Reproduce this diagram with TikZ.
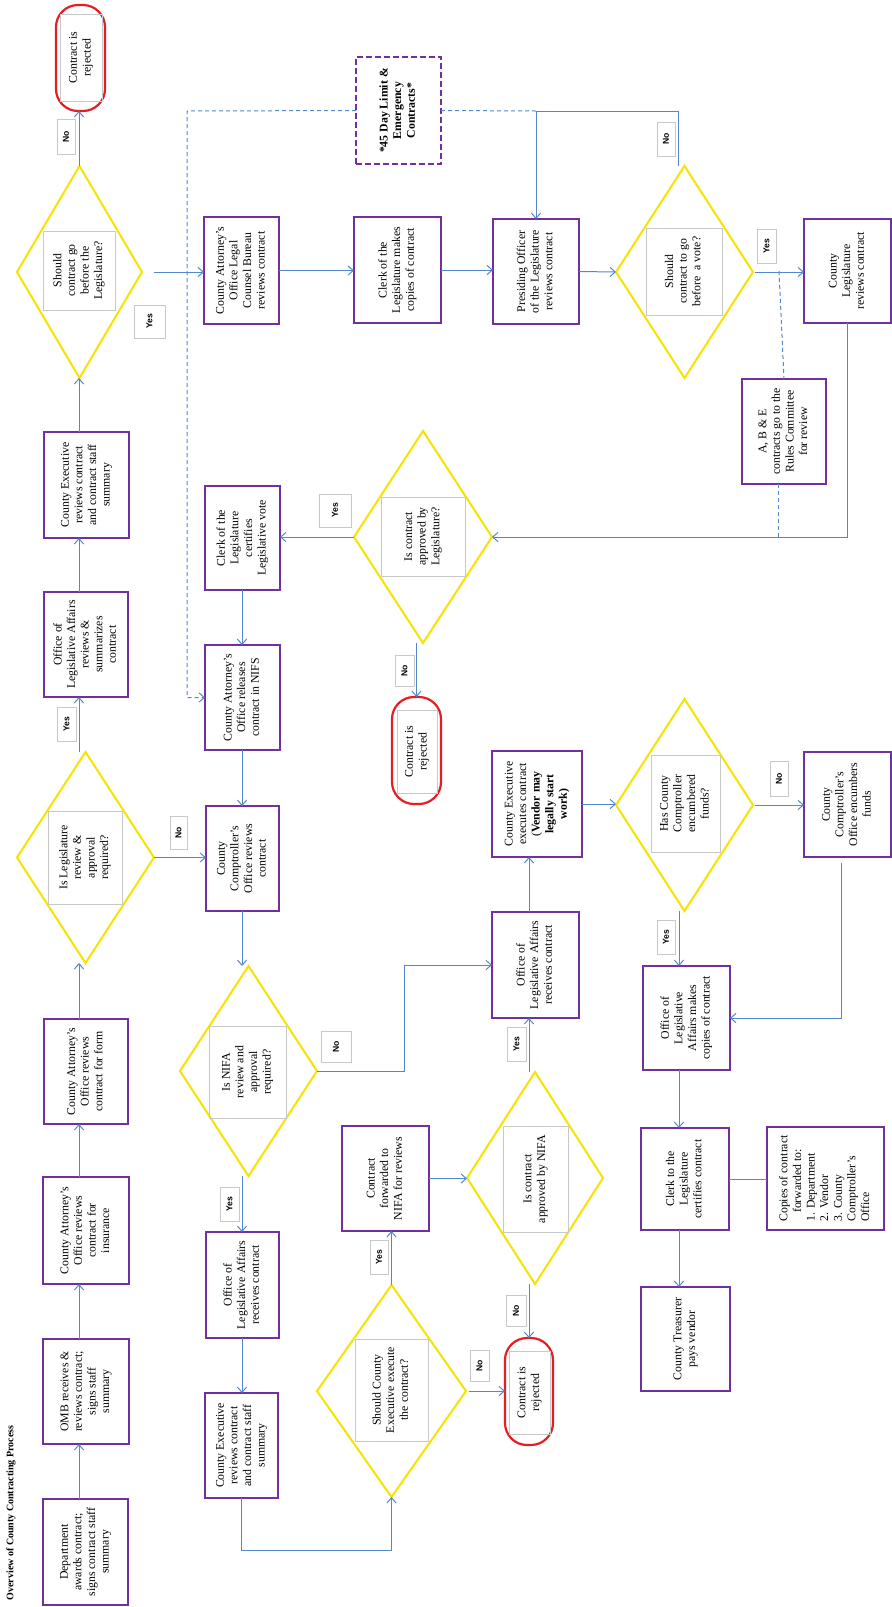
\documentclass[tikz,border=0pt]{standalone}
\usepackage{fontspec}
\setmainfont{Liberation Serif}
\newfontfamily\lblsans{Liberation Sans}
\usetikzlibrary{shapes.geometric,arrows.meta}
\definecolor{bpurple}{RGB}{112,48,160}
\definecolor{dyellow}{RGB}{245,228,0}
\definecolor{rred}{RGB}{228,30,36}
\definecolor{cblue}{RGB}{84,136,206}
\definecolor{lgray}{RGB}{200,200,200}
\newcommand\rtxt[1]{\rotatebox{90}{\begin{tabular}{@{}c@{}}#1\end{tabular}}}
\newcommand\ltxt[1]{\rotatebox{90}{\begin{tabular}{@{}l@{}}#1\end{tabular}}}
\begin{document}
\begin{tikzpicture}[x=0.5pt,y=-0.5pt,
 every node/.style={inner sep=0pt, outer sep=0pt},
 sz/.style 2 args={minimum width=#1*0.5pt, minimum height=#2*0.5pt},
 pbox/.style={draw=bpurple, line width=1.1pt, fill=white, rectangle, font=\fontsize{5.9}{6.8}\selectfont},
 dbox/.style={draw=bpurple, line width=1.1pt, dash pattern=on 3pt off 1.5pt, fill=white, rectangle, font=\fontsize{5.9}{6.8}\selectfont\bfseries},
 dia/.style={draw=dyellow, line width=1pt, diamond},
 ibox/.style={draw=lgray, line width=0.5pt, rectangle, font=\fontsize{5.9}{6.8}\selectfont},
 rej/.style={draw=rred, line width=1.1pt, rectangle, rounded corners=11pt, fill=white},
 lbl/.style={draw=lgray, line width=0.5pt, fill=white, rectangle, font=\lblsans\bfseries\fontsize{4.3}{5}\selectfont},
 arr/.style={draw=cblue, line width=0.5pt, -{Straight Barb[length=2.6pt,width=4.6pt]}},
 ln/.style={draw=cblue, line width=0.5pt},
 dsh/.style={draw=cblue, line width=0.5pt, dash pattern=on 2pt off 1.5pt},
]
\fill[white] (0,0) rectangle (892,1607);
\useasboundingbox (0,0) rectangle (892,1607);

% title
\node[font=\bfseries\fontsize{5}{6}\selectfont] (title) at (11,1513) {\rotatebox{90}{Overview of County Contracting Process}};

% column 1
\node[pbox, sz={85}{106}] (dept) at (85.5,1552) {\rtxt{Department\\awards contract;\\signs contract staff\\summary}};
\node[pbox, sz={86}{105}] (omb) at (86,1391.5) {\rtxt{OMB receives \&\\reviews contract;\\signs staff\\summary}};
\node[pbox, sz={86}{107}] (ains) at (86,1230.5) {\rtxt{County Attorney's\\Office reviews\\contract for\\insurance}};
\node[pbox, sz={84}{105}] (aform) at (86,1071.5) {\rtxt{County Attorney's\\Office reviews\\contract for form}};
\node[dia, sz={137}{211}] (dleg) at (85.5,857.5) {};
\node[ibox, sz={74}{93}] (dlegin) at (85,857.5) {\rtxt{Is Legislature\\review \&\\approval\\required?}};
\node[pbox, sz={84}{105}] (c1o) at (86,644.5) {\rtxt{Office of\\Legislative Affairs\\reviews \&\\summarizes\\contract}};
\node[pbox, sz={85}{106}] (c1e) at (86.5,485) {\rtxt{County Executive\\reviews contract\\and contract staff\\summary}};
\node[dia, sz={125}{212}] (d1) at (79.5,272) {};
\node[ibox, sz={72}{79}] (d1in) at (79,270.5) {\rtxt{Should\\contract go\\before the\\Legislature?}};
\node[rej, sz={49}{106}] (r1) at (80.5,58) {};
\node[ibox, sz={42}{87}] (r1in) at (81,57.5) {\rtxt{Contract is\\rejected}};

% column 2
\node[pbox, sz={75}{107}] (lc) at (241.5,270.5) {\rtxt{County Attorney's\\Office Legal\\Counsel Bureau\\reviews contract}};
\node[pbox, sz={75}{104}] (cv) at (242.5,538) {\rtxt{Clerk of the\\Legislature\\certifies\\Legislative vote}};
\node[pbox, sz={75}{105}] (rn) at (242.5,697.5) {\rtxt{County Attorney's\\Office releases\\contract in NIFS}};
\node[pbox, sz={73}{105}] (cr) at (242.5,858.5) {\rtxt{County\\Comptroller's\\Office reviews\\contract}};
\node[dia, sz={137}{210}] (dn) at (248.5,1071) {};
\node[ibox, sz={77}{92}] (dnin) at (247.5,1072) {\rtxt{Is NIFA\\review and\\approval\\required?}};
\node[pbox, sz={73}{106}] (or2) at (242.5,1285) {\rtxt{Office of\\Legislative Affairs\\receives contract}};
\node[pbox, sz={73}{105}] (cx2) at (241.5,1445.5) {\rtxt{County Executive\\reviews contract\\and contract staff\\summary}};

% column 3
\node[pbox, sz={87}{106}] (cm) at (397.5,270) {\rtxt{Clerk of the\\Legislature makes\\copies of contract}};
\node[dbox, sz={85}{107}] (ff) at (398.5,110.5) {\rtxt{*45 Day Limit \&\\Emergency\\Contracts*}};
\node[dia, sz={138}{212}] (dapp) at (423,537) {};
\node[ibox, sz={84}{79}] (dappin) at (423,536.5) {\rtxt{Is contract\\approved by\\Legislature?}};
\node[rej, sz={49}{107}] (r2) at (416.5,750.5) {};
\node[ibox, sz={40}{83}] (r2in) at (417,751.5) {\rtxt{Contract is\\rejected}};
\node[pbox, sz={87}{105}] (cf) at (385.5,1178.5) {\rtxt{Contract\\forwarded to\\NIFA for reviews}};
\node[dia, sz={149}{212}] (dexec) at (391.5,1391) {};
\node[ibox, sz={73}{102}] (dexecin) at (391.5,1390) {\rtxt{Should County\\Executive execute\\the contract?}};

% column 4
\node[pbox, sz={86}{105}] (po) at (536,271.5) {\rtxt{Presiding Officer\\of the Legislature\\reviews contract}};
\node[pbox, sz={90}{106}] (ex) at (537,804) {\rtxt{County Executive\\executes contract\\(\textbf{Vendor may}\\\textbf{legally start}\\\textbf{work)}}};
\node[pbox, sz={87}{106}] (or) at (535.5,965) {\rtxt{Office of\\Legislative Affairs\\receives contract}};
\node[dia, sz={136}{212}] (dna) at (535,1178) {};
\node[ibox, sz={65}{106}] (dnain) at (535.5,1179) {\rtxt{Is contract\\approved by NIFA}};
\node[rej, sz={48}{107}] (r3) at (529,1391.5) {};
\node[ibox, sz={41}{83}] (r3in) at (529.5,1392.5) {\rtxt{Contract is\\rejected}};

% column 5
\node[dia, sz={137}{212}] (dvote) at (684.5,272) {};
\node[ibox, sz={76}{87}] (dvotein) at (684,271.5) {\rtxt{Should\\contract to go\\before\ \ a vote?}};
\node[pbox, sz={84}{105}] (abe) at (784,431.5) {\rtxt{A, B \& E\\contracts go to the\\Rules Committee\\for review}};
\node[dia, sz={137}{212}] (dfund) at (684.5,805) {};
\node[ibox, sz={69}{97}] (dfundin) at (685.5,803.5) {\rtxt{Has County\\Comptroller\\encumbered\\funds?}};
\node[pbox, sz={87}{104}] (oc) at (686.5,1018) {\rtxt{Office of\\Legislative\\Affairs makes\\copies of contract}};
\node[pbox, sz={88}{102}] (ct) at (685,1179) {\rtxt{Clerk to the\\Legislature\\certifies contract}};
\node[pbox, sz={89}{104}] (tr) at (685.5,1339) {\rtxt{County Treasurer\\pays vendor}};

% column 6
\node[pbox, sz={87}{104}] (cl) at (847.5,271) {\rtxt{County\\Legislature\\reviews contract}};
\node[pbox, sz={87}{105}] (ce) at (847.5,804.5) {\rtxt{County\\Comptroller's\\Office encumbers\\funds}};
\node[pbox, sz={117}{103}] (cp) at (825.5,1178.5) {\ltxt{Copies of contract\\\ \ \ forwarded to:\\1. Department\\2. Vendor\\3. County\\Comptroller's\\Office}};

% labels
\node[lbl, sz={18}{35}] (no1) at (66,136.5) {\rotatebox{90}{No}};
\node[lbl, sz={31}{33}] (yes1) at (149.5,321.5) {\rotatebox{90}{Yes}};
\node[lbl, sz={19}{34}] (yesleg) at (66.5,724) {\rotatebox{90}{Yes}};
\node[lbl, sz={17}{33}] (noleg) at (178.5,832.5) {\rotatebox{90}{No}};
\node[lbl, sz={18}{34}] (novote) at (666,139) {\rotatebox{90}{No}};
\node[lbl, sz={19}{34}] (yesvote) at (766.5,246) {\rotatebox{90}{Yes}};
\node[lbl, sz={32}{33}] (yesapp) at (335,510.5) {\rotatebox{90}{Yes}};
\node[lbl, sz={19}{31}] (noapp) at (404.5,670.5) {\rotatebox{90}{No}};
\node[lbl, sz={18}{35}] (nofund) at (779,778.5) {\rotatebox{90}{No}};
\node[lbl, sz={18}{34}] (yesfund) at (666,937) {\rotatebox{90}{Yes}};
\node[lbl, sz={30}{31}] (nonifa) at (336,1046.5) {\rotatebox{90}{No}};
\node[lbl, sz={19}{34}] (yesor) at (516.5,1044) {\rotatebox{90}{Yes}};
\node[lbl, sz={19}{34}] (yesnifa) at (229.5,1204) {\rotatebox{90}{Yes}};
\node[lbl, sz={18}{34}] (yescf) at (379,1257) {\rotatebox{90}{Yes}};
\node[lbl, sz={20}{31}] (nona) at (516,1310.5) {\rotatebox{90}{No}};
\node[lbl, sz={19}{31}] (noexec) at (479.5,1365.5) {\rotatebox{90}{No}};

% connectors
\coordinate (xa) at (79,0);
\coordinate (xb) at (242,0);
\coordinate (xd) at (529,0);
\coordinate (xe) at (679,0);
\coordinate (jn) at (536,111);
\coordinate (dc) at (187,111);
\coordinate (ya) at (779,271);
\coordinate (abj) at (778,537);
\coordinate (nk) at (404,1071);
\coordinate (bk) at (0,1550);

\draw[arr] (dept.north -| xa) -- (omb.south -| xa);
\draw[arr] (omb.north -| xa) -- (ains.south -| xa);
\draw[arr] (ains.north -| xa) -- (aform.south -| xa);
\draw[arr] (aform.north -| xa) -- (dleg.south -| xa);
\draw[arr] (dleg.north -| xa) -- (c1o.south -| xa);
\draw[arr] (c1o.north -| xa) -- (c1e.south -| xa);
\draw[arr] (c1e.north -| xa) -- (d1.south -| xa);
\draw[arr] (d1.north -| xa) -- (r1.south -| xa);
\draw[arr] ([xshift=6pt]d1.east) -- (d1.east -| lc.west);
\draw[arr] (lc.east) -- (cm.west |- lc.east);
\draw[arr] (cm.east) -- (po.west |- cm.east);
\draw[arr] (po.east) -- (dvote.west);
\draw[arr] ([xshift=1pt]dvote.east) -- (cl.west |- dvote.east);
\draw[arr] ([xshift=-3.25pt]dvote.north) |- (jn) -- (po.north);
\draw[dsh] (ff.east) -- (jn);
\draw[dsh, -{Straight Barb[length=2.6pt,width=4.6pt]}] (ff.west) -- (dc) |- (rn.west);
\draw[arr] (cl.south) |- (dapp.east);
\draw[dsh] (ya) -- (abe.north);
\draw[dsh] (abe.south -| abj) -- (abj);
\draw[arr] (dapp.west) -- (cv.east |- dapp.west);
\draw[arr] (dapp.south -| r2.north) -- (r2.north);
\draw[arr] (cv.south -| xb) -- (rn.north -| xb);
\draw[arr] (rn.south -| xb) -- (cr.north -| xb);
\draw[arr] (cr.south -| xb) -- (dn.north -| xb);
\draw[arr] (dn.south -| xb) -- (or2.north -| xb);
\draw[arr] (or2.south -| xb) -- (cx2.north -| xb);
\draw[arr] (dleg.east) -- (cr.west |- dleg.east);
\draw[arr] (dn.east) -- (nk) |- (or.west);
\draw[arr] (cx2.south) -- (cx2.south |- bk) -| (dexec.south);
\draw[arr] (dexec.north) -- (dexec.north |- cf.south);
\draw[arr] ([xshift=1.5pt]dexec.east) -- (r3.west |- dexec.east);
\draw[arr] (cf.east) -- (dna.west |- cf.east);
\draw[arr] (dna.north -| xd) -- (or.south -| xd);
\draw[arr] (or.north -| xd) -- (ex.south -| xd);
\draw[arr] (dna.south -| xd) -- (r3.north -| xd);
\draw[arr] (ex.east) -- (dfund.west |- ex.east);
\draw[arr] ([xshift=1pt]dfund.east) -- (ce.west |- dfund.east);
\draw[arr] (dfund.south -| xe) -- (oc.north -| xe);
\draw[arr] ([xshift=-3.25pt,yshift=-3pt]ce.south) |- (oc.east);
\draw[arr] (oc.south -| xe) -- (ct.north -| xe);
\draw[ln] (ct.east) -- (cp.west |- ct.east);
\draw[arr] (ct.south -| xe) -- (tr.north -| xe);
\end{tikzpicture}
\end{document}
